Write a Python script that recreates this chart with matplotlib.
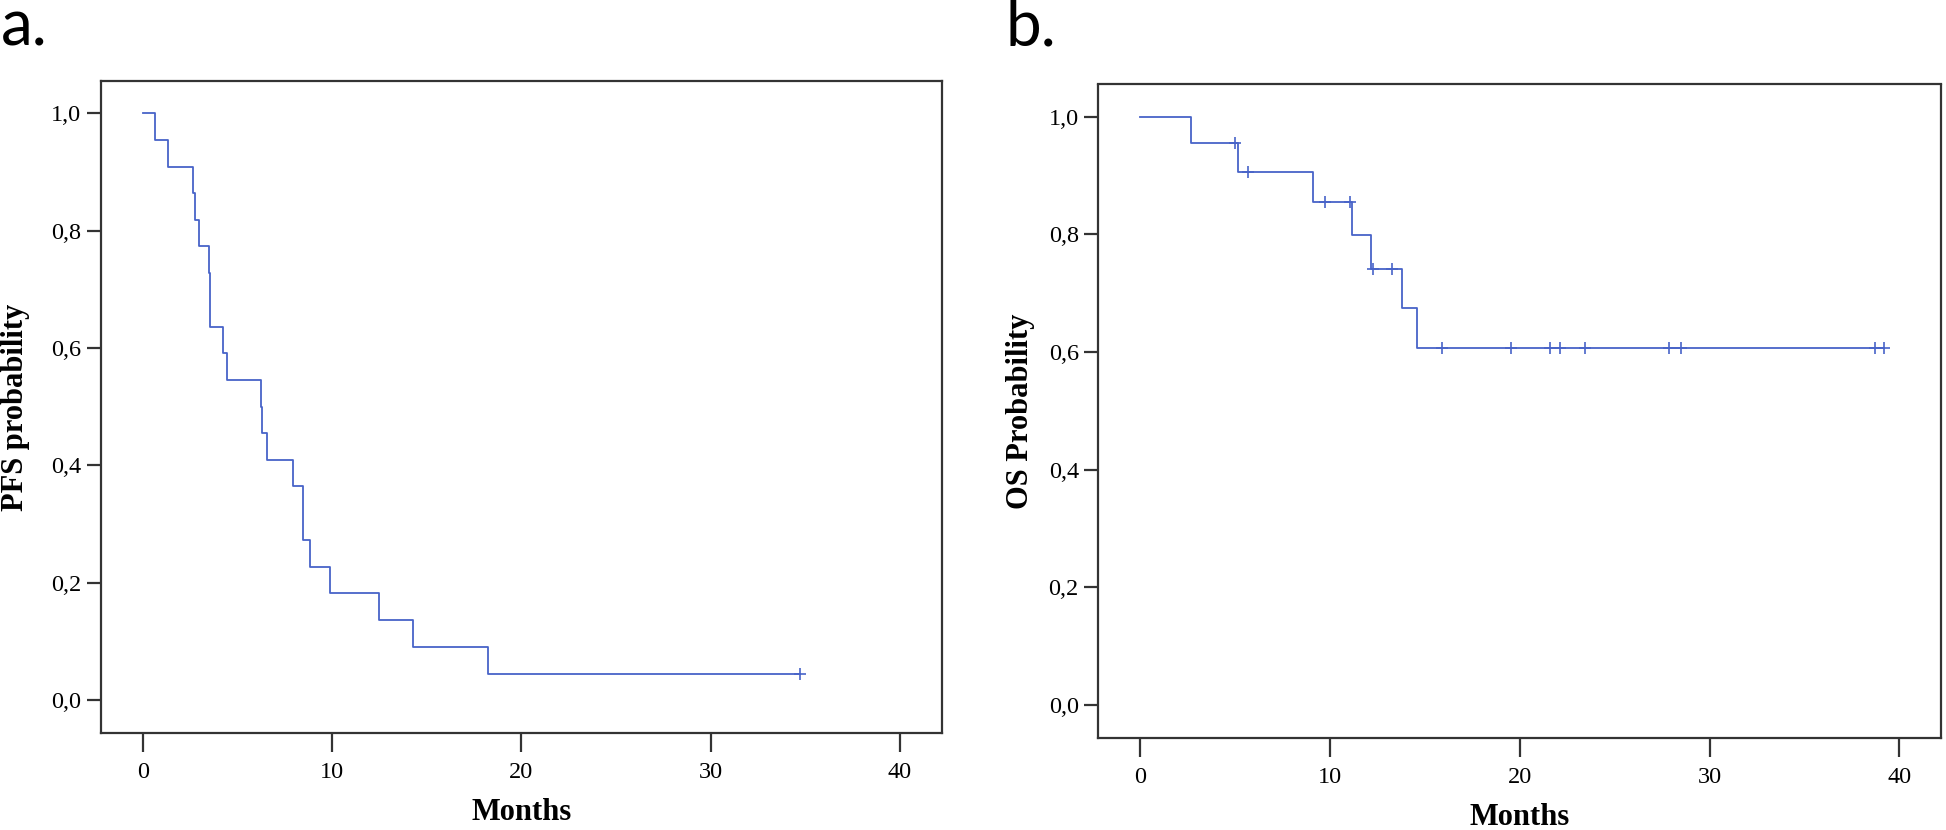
import numpy as np
import matplotlib
matplotlib.use("Agg")
import matplotlib.pyplot as plt

# Kaplan-Meier step values
pfs_time = [0, 0.65, 1.32, 2.63, 2.75, 2.98, 3.50, 3.53, 3.58, 4.25, 4.47,
            6.27, 6.32, 6.55, 7.96, 8.46, 8.81, 9.89, 12.48, 14.30, 18.22, 34.7]
pfs_surv = [1.0, 0.955, 0.909, 0.864, 0.818, 0.773, 0.727, 0.682, 0.636, 0.591, 0.545,
            0.5, 0.455, 0.409, 0.364, 0.273, 0.227, 0.182, 0.136, 0.091, 0.045, 0.045]
pfs_censor = [34.7]

os_time = [0, 2.65, 5.15, 9.08, 11.15, 12.14, 13.81, 14.59, 39.21]
os_surv = [1.0, 0.955, 0.907, 0.856, 0.799, 0.742, 0.675, 0.607, 0.607]
os_censor = [4.99, 5.67, 9.74, 11.06, 12.24, 13.25, 15.88, 19.53, 21.58,
             22.14, 23.41, 27.88, 28.52, 38.72, 39.21]

x_ticks = [0, 10, 20, 30, 40]
y_ticks = [0.0, 0.2, 0.4, 0.6, 0.8, 1.0]
y_ticklabels = ["0,0", "0,2", "0,4", "0,6", "0,8", "1,0"]

LINE = "#4863c8"
SPINE = "#333333"
SERIF = ["Liberation Serif", "DejaVu Serif"]

W, H = 1946, 830
fig = plt.figure(figsize=(W / 100, H / 100), dpi=100)


def km_panel(rect, times, surv, censor, ylabel, ylab_x, letter, letter_x):
    ax = fig.add_axes(rect)
    ax.step(times, surv, where="post", color=LINE, lw=1.3)
    t = np.asarray(times)
    s = np.asarray(surv)
    cy = s[np.searchsorted(t, censor, side="right") - 1]
    ax.plot(censor, cy, ls="none", marker="+", ms=8.5, mew=1.2, color=LINE)

    ax.set_xlim(-2.22, 42.2)
    ax.set_ylim(-0.056, 1.055)
    ax.set_xticks(x_ticks)
    ax.set_yticks(y_ticks)
    ax.set_yticklabels(y_ticklabels)
    for lab in ax.get_xticklabels() + ax.get_yticklabels():
        lab.set_family(SERIF)
        lab.set_fontsize(17.5)
    ax.tick_params(axis="x", length=14, width=1.6, color=SPINE, pad=7)
    ax.tick_params(axis="y", length=10, width=1.6, color=SPINE, pad=4)
    for sp in ax.spines.values():
        sp.set_color(SPINE)
        sp.set_linewidth(1.6)

    ax.text(0.5, -0.122, "Months", transform=ax.transAxes, ha="center", va="center",
            family=SERIF, fontweight="bold", fontsize=22)
    ax.text(ylab_x, 0.5, ylabel, transform=ax.transAxes, ha="center", va="center",
            rotation=90, family=SERIF, fontweight="bold", fontsize=22)
    fig.text(letter_x, 1 - 45 / H, letter, ha="left", va="baseline",
             family=["Lato", "DejaVu Sans"], fontsize=46)
    return ax


km_panel([100.7 / W, 1 - 732.8 / H, 840.9 / W, 651.8 / H],
         pfs_time, pfs_surv, pfs_censor, "PFS probability", -0.101, "a.", 1 / W)
km_panel([1098.3 / W, 1 - 738 / H, 842.7 / W, 653.5 / H],
         os_time, os_surv, os_censor, "OS Probability", -0.092, "b.", 1005 / W)

fig.savefig("out.png", dpi=100, facecolor="white")
